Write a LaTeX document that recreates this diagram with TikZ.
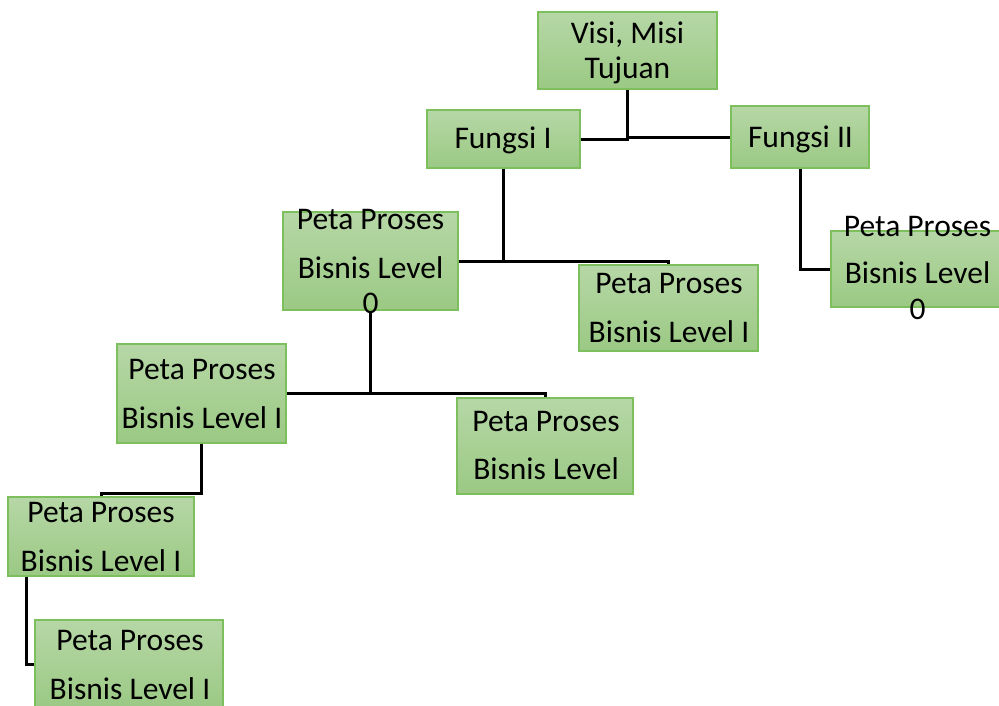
\documentclass[tikz,border=0pt]{standalone}
\usepackage{fontspec}
\setmainfont{Carlito}
\usetikzlibrary{calc}
\definecolor{gtop}{HTML}{B6D7A6}
\definecolor{gbot}{HTML}{9BC984}
\definecolor{gedge}{HTML}{7DBF5C}
\tikzset{
  gbox/.style={rectangle, draw=gedge, line width=1.3pt, top color=gtop, bottom color=gbot, inner sep=0pt},
  txt/.style={anchor=base, inner sep=0pt, font=\fontsize{31.5}{36}\selectfont},
  conn/.style={draw=black, line width=3pt}
}
\newcommand{\gb}[5]{\node[gbox, minimum width=#4-#2, minimum height=#5-#3] (#1) at ({(#2+#4)/2},{(#3+#5)/2}) {};}
\begin{document}
\begin{tikzpicture}[x=1pt,y=-1pt]
\useasboundingbox (0,0) rectangle (999,705);
% boxes
\gb{visi}{538}{12}{717}{89}
\gb{fa}{427}{110}{580}{168}
\gb{fb}{731}{106}{869}{168}
\gb{ppa}{283}{212}{458}{310}
\gb{ppb}{579}{265}{758}{351}
\gb{ppc}{457}{398}{633}{494}
\gb{ppd}{117}{344}{286}{443}
\gb{ppe}{8}{497}{194}{576}
\gb{ppf}{35}{620}{223}{708}
\gb{ppg}{831}{231}{1010}{307}
% connectors
\draw[conn] (visi.south) |- (fa.east);
\draw[conn] (visi.south) |- (fb.west);
\draw[conn] (fa.south) |- (ppa.east);
\draw[conn] (ppa.east) -| (ppb.north);
\draw[conn] (ppa.south) |- (ppd.east);
\draw[conn] (ppd.east) -| (ppc.north);
\coordinate (ke) at (101,493);
\draw[conn] (ppd.south) |- (ke) -- (ppe.north);
\coordinate (kf) at ($(ppe.south west)+(19,0)$);
\draw[conn] (kf) |- (ppf.west);
\draw[conn] (fb.south) |- (ppg.west);
% texts
\node[txt] (t1a) at (627.5,43) {Visi, Misi};
\node[txt] (t1b) at (627.5,78) {Tujuan};
\node[txt] (t2) at (503,148) {Fungsi I};
\node[txt] (t3) at (800.5,147) {Fungsi II};
\node[txt] (t4a) at (370.5,229) {Peta Proses};
\node[txt] (t4b) at (370.5,278) {Bisnis Level};
\node[txt] (t4c) at (370.5,313) {0};
\node[txt] (t5a) at (669,293) {Peta Proses};
\node[txt] (t5b) at (669,342) {Bisnis Level I};
\node[txt] (t6a) at (546,431) {Peta Proses};
\node[txt] (t6b) at (546,479) {Bisnis Level};
\node[txt] (t7a) at (202,379) {Peta Proses};
\node[txt] (t7b) at (202,428) {Bisnis Level I};
\node[txt] (t8a) at (101,522) {Peta Proses};
\node[txt] (t8b) at (101,571) {Bisnis Level I};
\node[txt] (t9a) at (130,650) {Peta Proses};
\node[txt] (t9b) at (130,699) {Bisnis Level I};
\node[txt] (t10a) at (917.5,236) {Peta Proses};
\node[txt] (t10b) at (917.5,283) {Bisnis Level};
\node[txt] (t10c) at (917.5,319) {0};
\end{tikzpicture}
\end{document}
